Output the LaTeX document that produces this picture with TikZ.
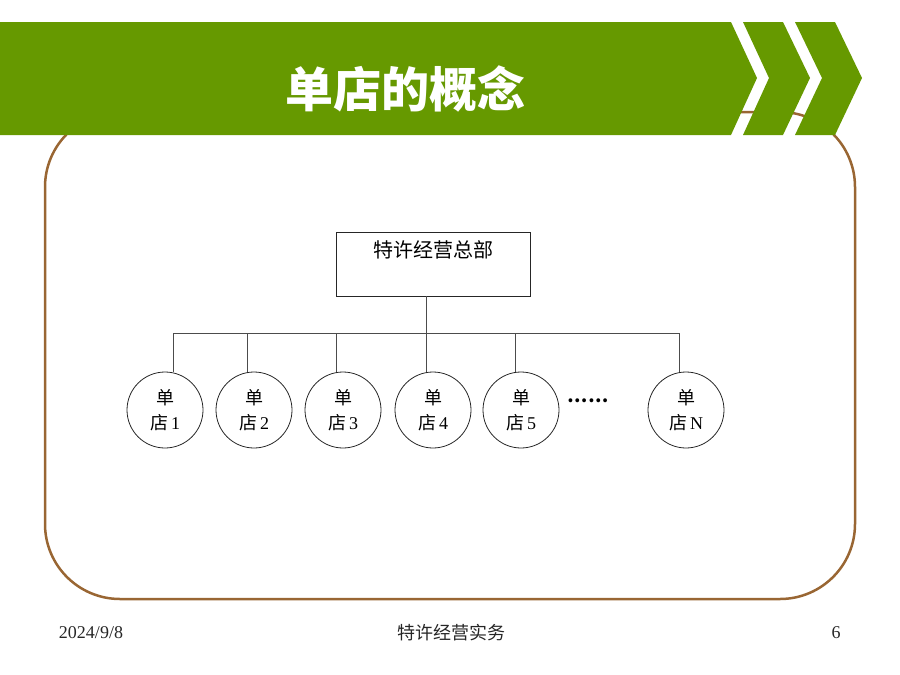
\documentclass[tikz,border=0pt]{standalone}
\usepackage{fontspec}
\setmainfont{Liberation Serif}
\newfontfamily\cjk{Noto Sans CJK SC}
\usetikzlibrary{positioning}

\begin{document}
\begin{tikzpicture}[x=1pt, y=-1pt,
    trgovina/.style={draw=black!85, line width=0.8pt, circle, minimum size=76pt,
        inner sep=0pt, align=center, font=\cjk\fontsize{18}{25}\selectfont},
    veja/.style={draw=black!70, line width=0.9pt}]
\definecolor{zelena}{RGB}{102,153,0}
\definecolor{rjava}{RGB}{153,102,51}

\useasboundingbox (0, 0) rectangle (900, 675);

\draw[rjava, line width=2.5pt, rounded corners=75pt] (45, 112) rectangle (855, 599);

% glava
\fill[zelena] (0, 22) -- (731, 22) -- (757, 78) -- (731, 135) -- (0, 135) -- cycle;
\fill[zelena] (743, 22) -- (783, 22) -- (810, 78) -- (783, 135)
    -- (743, 135) -- (769, 78) -- cycle;
\fill[zelena] (795, 22) -- (835, 22) -- (862, 78) -- (835, 135)
    -- (795, 135) -- (822, 78) -- cycle;

\node[text=white, font=\cjk\bfseries\fontsize{48}{55}\selectfont] (naslov)
    at (405, 89) {单店的概念};

% drevo
\node[draw=black!85, line width=0.9pt, minimum width=194pt, minimum height=64pt] (hq)
    at (433, 264) {};
\node[font=\cjk\fontsize{20}{24}\selectfont] (hqtext)
    at ([yshift=-18pt]hq.north) {特许经营总部};

\node[trgovina] (s1) at (165, 410) {单\\店\,{\rmfamily 1}};
\node[trgovina] (s2) at (254, 410) {单\\店\,{\rmfamily 2}};
\node[trgovina] (s3) at (343, 410) {单\\店\,{\rmfamily 3}};
\node[trgovina] (s4) at (433, 410) {单\\店\,{\rmfamily 4}};
\node[trgovina] (s5) at (521, 410) {单\\店\,{\rmfamily 5}};
\node[trgovina] (sn) at (686, 410) {单\\店\,{\rmfamily N}};
\node[font=\cjk\bfseries\fontsize{18}{20}\selectfont] (pike) at (588, 401) {……};

\coordinate (razcep) at (426, 333);
\coordinate (b1) at (173, 333);
\coordinate (b2) at (247, 333);
\coordinate (b3) at (336, 333);
\coordinate (b5) at (515, 333);
\coordinate (bn) at (679, 333);

\draw[veja] (razcep |- hq.south) -- (razcep);
\draw[veja] (b1) -- (bn);

\draw[veja] (b1) -- (b1 |- s1.north);
\draw[veja] (b2) -- (b2 |- s2.north);
\draw[veja] (b3) -- (b3 |- s3.north);
\draw[veja] (razcep) -- (razcep |- s4.north);
\draw[veja] (b5) -- (b5 |- s5.north);
\draw[veja] (bn) -- (bn |- sn.north);

% noga
\node[font=\fontsize{18}{20}\selectfont, text=black!85] (datum) at (91, 633) {2024/9/8};
\node[font=\cjk\fontsize{18}{20}\selectfont, text=black!85] (predmet) at (451, 633) {特许经营实务};
\node[font=\fontsize{18}{20}\selectfont, text=black!85] (stran) at (836, 633) {6};

\end{tikzpicture}
\end{document}
